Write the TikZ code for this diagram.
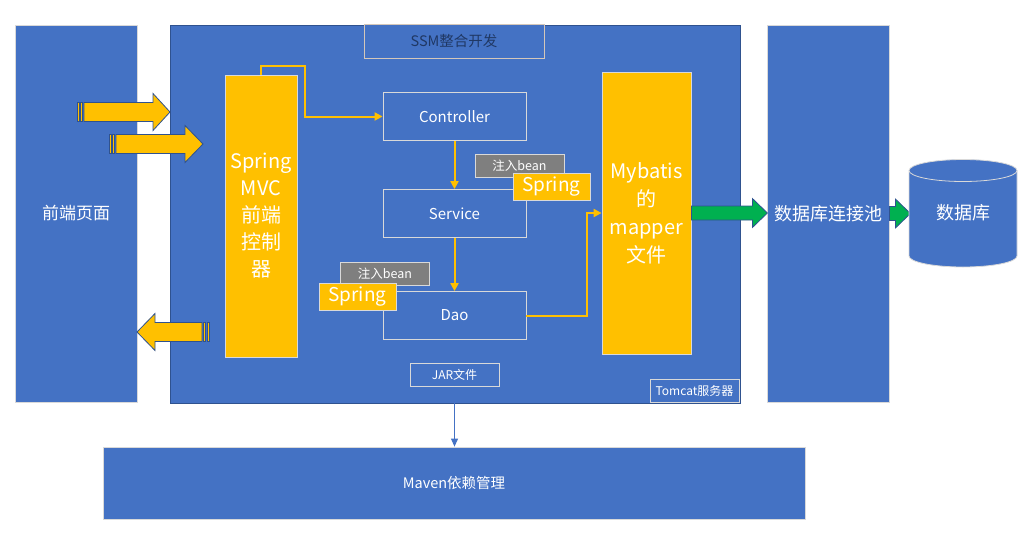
\documentclass[tikz,border=0pt]{standalone}
\usepackage{fontspec}
\setmainfont{Noto Sans CJK SC}
\usetikzlibrary{shapes,arrows.meta}
\definecolor{boxblue}{HTML}{4472C4}
\definecolor{darkblue}{HTML}{2F528F}
\definecolor{gold}{HTML}{FFC000}
\definecolor{beangray}{HTML}{7F7F7F}
\definecolor{edge}{HTML}{D9D9D9}
\definecolor{navy}{HTML}{203864}
\definecolor{pipe}{HTML}{00B050}

\begin{document}
\begin{tikzpicture}[x=1pt,y=-1pt,
  box/.style={draw=edge,fill=boxblue,text=white,inner sep=0pt,align=center,line width=0.8pt},
  gold box/.style={box,fill=gold},
  bean/.style={box,fill=beangray,minimum width=89pt,minimum height=23pt,font=\fontsize{12.5}{14}\selectfont},
  springlbl/.style={gold box,minimum width=77pt,minimum height=27pt,font=\fontsize{19}{22}\selectfont},
  layer/.style={box,minimum width=143pt,minimum height=48pt,font=\fontsize{15}{18}\selectfont},
  small/.style={box,minimum width=89pt,minimum height=23pt,font=\fontsize{12}{14}\selectfont},
  flow/.style={draw=gold,line width=2pt,-{Triangle[length=8pt,width=8pt]}},
  yarrow/.style={draw=darkblue,fill=gold,line width=0.8pt},
  garrow/.style={draw=darkblue,fill=pipe,line width=0.8pt},
]
  \useasboundingbox (0,0) rectangle (1023,536);

  \node (front)[box,minimum width=122pt,minimum height=377pt,font=\fontsize{17}{20}\selectfont] at (76,213.5) {前端页面};
  \node (tomcat)[box,draw=darkblue,minimum width=570pt,minimum height=378pt] at (455,214) {};
  \node (pool)[box,minimum width=122pt,minimum height=377pt,font=\fontsize{18}{21}\selectfont] at (828,213.5) {数据库连接池};
  \node (maven)[box,minimum width=702pt,minimum height=72pt,font=\fontsize{14.5}{17}\selectfont] at (454,483) {Maven依赖管理};

  \node (ssm)[box,draw=edge!80!brown,text=navy,minimum width=180pt,minimum height=34pt,font=\fontsize{14.5}{17}\selectfont] at (454,41) {SSM整合开发};
  \node (mvc)[gold box,minimum width=72pt,minimum height=282pt,font=\fontsize{20}{27}\selectfont] at (261,216) {Spring\\MVC\\前端\\控制\\器};
  \node (ctrl)[layer] at (454.5,116.5) {Controller};
  \node (svc)[layer] at (454.5,213.5) {Service};
  \node (dao)[layer] at (454.5,315.5) {Dao};
  \node (mybatis)[gold box,minimum width=89pt,minimum height=282pt,font=\fontsize{20}{28}\selectfont] at (646.5,213) {Mybatis\\的\\mapper\\文件};
  \node (jar)[small] at (454.5,375) {JAR文件};
  \node (tomcatlbl)[small] at (694.5,390.5) {Tomcat服务器};

  \draw[flow] (mvc.north) -- ++(0,-9) -| ([xshift=-78pt]ctrl.west) -- (ctrl.west);
  \draw[flow] (ctrl) -- (svc);
  \draw[flow] (svc) -- (dao);
  \draw[flow] (dao.east) -- ++(61,0) |- (mybatis.west);
  \draw[boxblue,line width=1pt,-{Triangle[length=8pt,width=7pt]}] (jar.south) -- (jar.south |- maven.north);

  \node (bean1)[bean] at (519.5,165.5) {注入bean};
  \node (spring1)[springlbl] at (551.5,186.5) {Spring};
  \node (bean2)[bean] at (385,273.5) {注入bean};
  \node (spring2)[springlbl] at (357.5,296.5) {Spring};

  \draw[yarrow,shift={(84,112)}] (0,-9.5) -- (69,-9.5) -- (69,-18.5) -- (86,0) -- (69,18.5) -- (69,9.5) -- (0,9.5) -- cycle;
  \draw[yarrow,shift={(84,112)}] (-7,-9.5) rectangle (-5,9.5) (-3.5,-9.5) rectangle (-1.5,9.5);
  \draw[yarrow,shift={(116,144)}] (0,-9.5) -- (69,-9.5) -- (69,-18.5) -- (87,0) -- (69,18.5) -- (69,9.5) -- (0,9.5) -- cycle;
  \draw[yarrow,shift={(116,144)}] (-7,-9.5) rectangle (-5,9.5) (-3.5,-9.5) rectangle (-1.5,9.5);
  \draw[yarrow,shift={(202,332)},xscale=-1] (0,-9.5) -- (47,-9.5) -- (47,-18.5) -- (65,0) -- (47,18.5) -- (47,9.5) -- (0,9.5) -- cycle;
  \draw[yarrow,shift={(202,332)},xscale=-1] (-7,-9.5) rectangle (-5,9.5) (-3.5,-9.5) rectangle (-1.5,9.5);

  \draw[garrow,shift={(mybatis.east)}] (0,-7) -- (61,-7) -- (61,-14.5) -- (76,0) -- (61,14.5) -- (61,7) -- (0,7) -- cycle;
  \draw[garrow,shift={(pool.east)}] (0,-7) -- (6,-7) -- (6,-14.5) -- (21,0) -- (6,14.5) -- (6,7) -- (0,7) -- cycle;

  \draw[draw=edge,fill=boxblue,line width=0.8pt] (909,170.5) -- (909,256) arc[start angle=180,end angle=0,x radius=54,y radius=11] -- (1017,170.5);
  \draw[draw=edge,fill=boxblue,line width=0.8pt] (963,170.5) ellipse[x radius=54,y radius=11];
  \node (db)[text=white,font=\fontsize{18}{21}\selectfont] at (963,213) {数据库};
\end{tikzpicture}
\end{document}
